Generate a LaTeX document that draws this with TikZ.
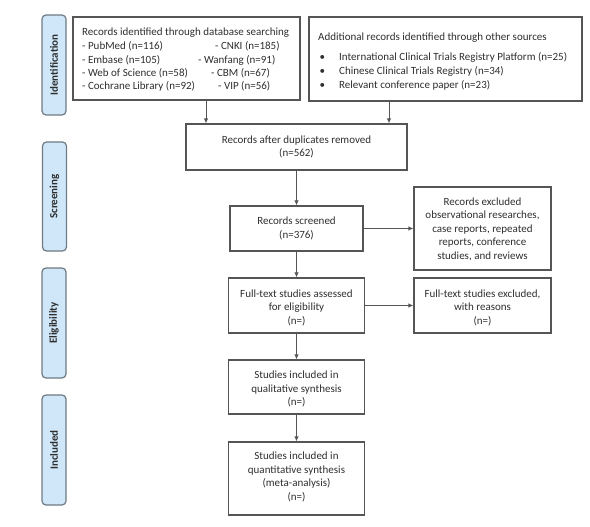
\documentclass[tikz,border=0pt]{standalone}
\usepackage{fontspec}
\setmainfont{Carlito}
\usetikzlibrary{arrows.meta}
\definecolor{boxline}{HTML}{555555}
\definecolor{txt}{HTML}{2E2E2E}
\definecolor{sidefill}{HTML}{CFE7F8}
\definecolor{sideline}{HTML}{6F7A82}
\tikzset{
  box/.style={draw=boxline, line width=1.2pt, rectangle, inner sep=0pt},
  btxt/.style={text=txt, font=\fontsize{11}{13.5}\selectfont, align=center, inner sep=0pt},
  ltxt/.style={text=txt, font=\fontsize{11}{13.5}\selectfont, inner sep=0pt, anchor=mid west},
  side/.style={draw=sideline, line width=1.2pt, fill=sidefill, rounded corners=4pt, rotate=90,
    minimum height=24pt, inner sep=0pt, text=txt, font=\fontsize{11}{12}\selectfont\bfseries},
  arr/.style={draw=boxline, line width=1pt, -{Latex[length=5pt,width=4.5pt]}}
}
\begin{document}
\begin{tikzpicture}[x=1pt,y=-1pt]
\useasboundingbox (0,0) rectangle (590,527);
% side labels
\node[side, minimum width=100pt] (sid) at (54,65) {Identification};
\node[side, minimum width=109pt] (sscr) at (54.5,196.5) {Screening};
\node[side, minimum width=110pt] (selg) at (54,323) {Eligibility};
\node[side, minimum width=110pt] (sinc) at (54,450) {Included};
% box 1
\node[box, minimum width=227pt, minimum height=83pt] (b1) at (186.5,58.5) {};
\node[ltxt] (t1) at (82,33) {Records identified through database searching};
\node[ltxt] (t1a) at (82,47) {- PubMed (n=116)};
\node[ltxt] (t1b) at (82,61) {- Embase (n=105)};
\node[ltxt] (t1c) at (82,74) {- Web of Science (n=58)};
\node[ltxt] (t1d) at (82,87) {- Cochrane Library (n=92)};
\node[ltxt] (t1e) at (215,47) {- CNKI (n=185)};
\node[ltxt] (t1f) at (198,61) {- Wanfang (n=91)};
\node[ltxt] (t1g) at (211,74) {- CBM (n=67)};
\node[ltxt] (t1h) at (218,87) {- VIP (n=56)};
% box 2
\node[box, minimum width=273pt, minimum height=84pt] (b2) at (445.5,59) {};
\node[ltxt] (t2) at (318,38) {Additional records identified through other sources};
\node[ltxt] (t2p1) at (319.5,58) {•};
\node[ltxt] (t2p2) at (319.5,72) {•};
\node[ltxt] (t2p3) at (319.5,86) {•};
\node[ltxt] (t2a) at (339,58) {International Clinical Trials Registry Platform (n=25)};
\node[ltxt] (t2b) at (339,72) {Chinese Clinical Trials Registry (n=34)};
\node[ltxt] (t2c) at (339,86) {Relevant conference paper (n=23)};
% main column
\node[box, minimum width=221pt, minimum height=46pt] (b3) at (296.5,147) {};
\node[btxt] (t3) at (296.5,147) {Records after duplicates removed\\(n=562)};
\node[box, minimum width=133pt, minimum height=45pt] (b4) at (296.5,228.5) {};
\node[btxt] (t4) at (296.5,228.5) {Records screened\\(n=376)};
\node[box, minimum width=137pt, minimum height=83pt] (b5) at (482.5,228.5) {};
\node[btxt] (t5) at (482.5,229) {Records excluded\\observational researches,\\case reports, repeated\\reports, conference\\studies, and reviews};
\node[box, minimum width=136pt, minimum height=55pt] (b6) at (296.5,305.5) {};
\node[btxt] (t6) at (296.5,307.5) {Full-text studies assessed\\for eligibility\\(n=)};
\node[box, minimum width=137pt, minimum height=55pt] (b7) at (482.5,305.5) {};
\node[btxt] (t7) at (482.5,307.5) {Full-text studies excluded,\\with reasons\\(n=)};
\node[box, minimum width=136pt, minimum height=54pt] (b8) at (296.5,387) {};
\node[btxt] (t8) at (296.5,389) {Studies included in\\qualitative synthesis\\(n=)};
\node[box, minimum width=136pt, minimum height=73pt] (b9) at (296.5,478.5) {};
\node[btxt] (t9) at (296.5,477) {Studies included in\\quantitative synthesis\\(meta-analysis)\\(n=)};
% connectors
\coordinate (c1) at (206,0);
\coordinate (c2) at (389,0);
\draw[arr] (b1.south -| c1) -- (b3.north -| c1);
\draw[arr] (b2.south -| c2) -- (b3.north -| c2);
\draw[arr] (b3.south) -- (b4.north);
\draw[arr] (b4.east) -- (b5.west);
\draw[arr] (b4.south) -- (b6.north);
\draw[arr] (b6.east) -- (b7.west);
\draw[arr] (b6.south) -- (b8.north);
\draw[arr] (b8.south) -- (b9.north);
\end{tikzpicture}
\end{document}
